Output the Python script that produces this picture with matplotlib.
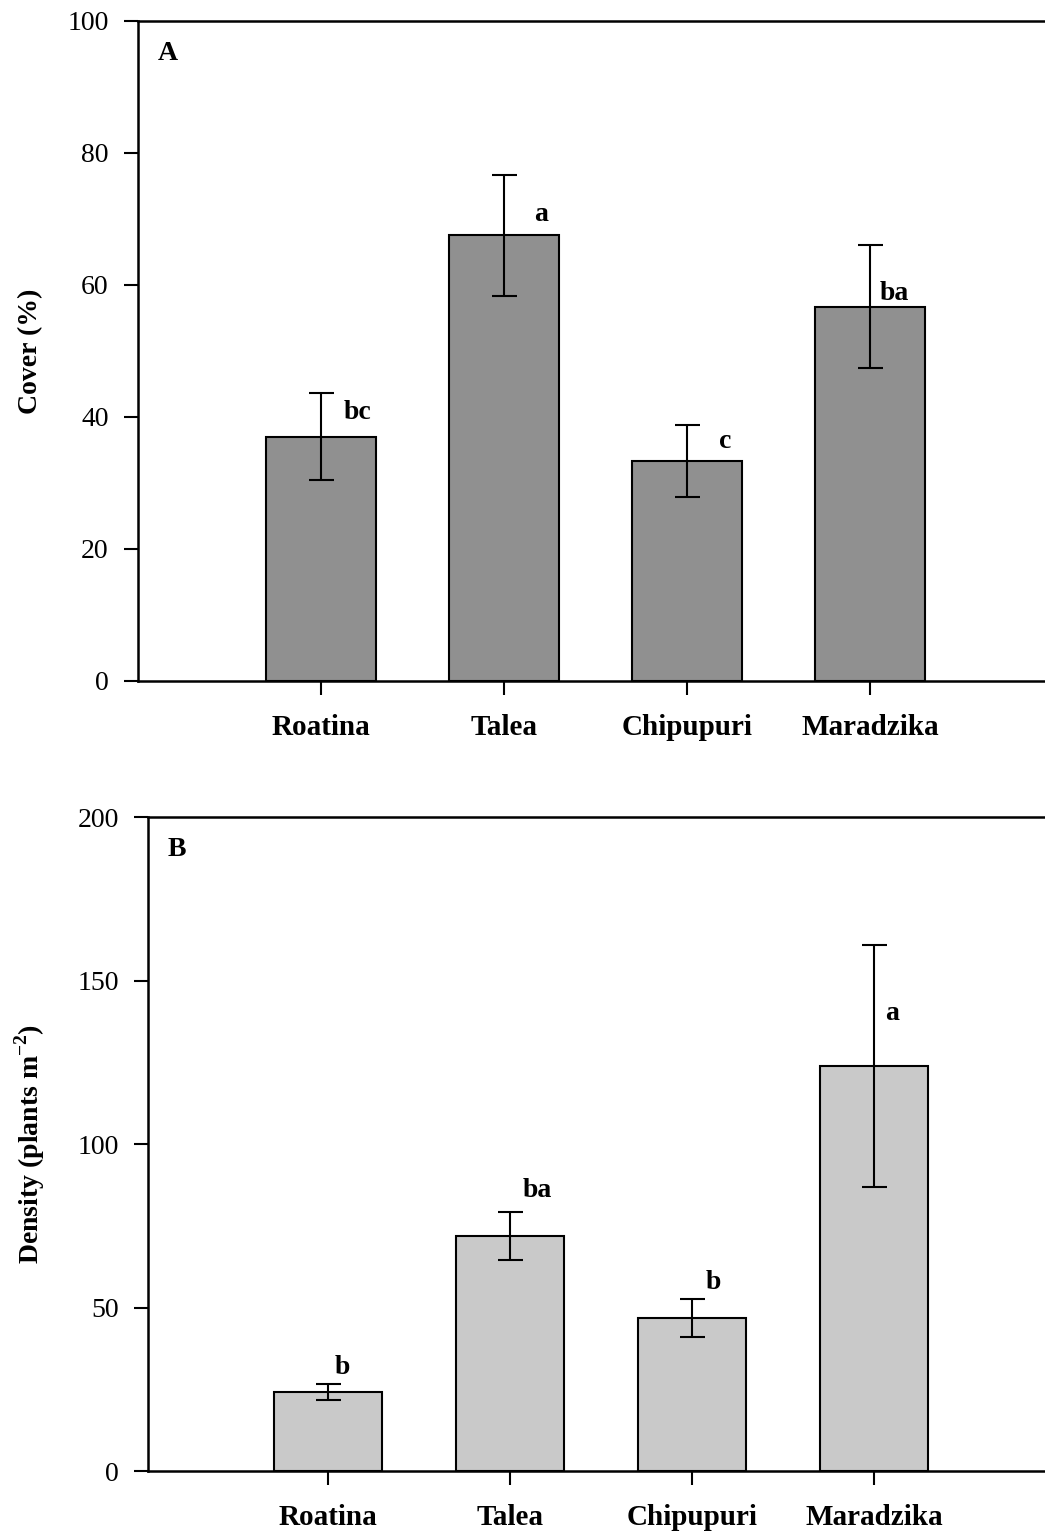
import matplotlib
matplotlib.use("Agg")
import numpy as np
from matplotlib import pyplot as plt

plt.rcParams['font.family'] = ['Liberation Serif', 'DejaVu Serif']
plt.rcParams['mathtext.fontset'] = 'custom'
plt.rcParams['mathtext.rm'] = 'Liberation Serif:bold'
plt.rcParams['mathtext.bf'] = 'Liberation Serif:bold'

# Dados
cultivares = ['Roatina', 'Talea', 'Chipupuri', 'Maradzika']

cobertura = [37.0, 67.5, 33.3, 56.7]
cobertura_se = [6.6, 9.1, 5.5, 9.3]
letras_a = ['bc', 'a', 'c', 'ba']

densidade = [24.2, 71.9, 46.8, 124.0]
densidade_se = [2.5, 7.3, 5.8, 37.0]
letras_b = ['b', 'ba', 'b', 'a']

# deslocamento das letras em relação ao topo da barra
dx_a = [0.20, 0.20, 0.21, 0.13]
dy_a = [3.7, 3.2, 3.0, 2.0]
dx_b = [0.08, 0.15, 0.12, 0.10]
dy_b = [7.6, 14.0, 10.7, 16.0]

pos = np.arange(1, len(cultivares) + 1)

fig = plt.figure(figsize=(10.45, 15.32), dpi=100)
ax1 = fig.add_axes([0.132, 0.5555, 0.868, 0.4308])
ax2 = fig.add_axes([0.1416, 0.0398, 0.8584, 0.4269])


def painel(ax, valores, erros, letras, dx, dy, cor, largura, ylim, yticks,
           ylabel, rotulo, label_x, xlim):
    ax.bar(pos, valores, width=largura, color=cor, edgecolor='black',
           linewidth=1.5, zorder=2)
    ax.errorbar(pos, valores, yerr=erros, fmt='none', ecolor='black',
                elinewidth=1.5, capsize=9, capthick=1.5, zorder=3)
    for i, letra in enumerate(letras):
        ax.text(pos[i] + dx[i], valores[i] + dy[i], letra, ha='center',
                va='center', fontsize=20, fontweight='bold')
    ax.set_xlim(*xlim)
    ax.set_ylim(*ylim)
    ax.set_yticks(yticks)
    ax.set_xticks(pos)
    ax.set_xticklabels(cultivares, fontsize=21, fontweight='bold')
    ax.tick_params(axis='y', labelsize=20, direction='out', length=10,
                   width=1.5, pad=11)
    ax.tick_params(axis='x', direction='out', length=10, width=1.5, pad=14)
    ax.spines['right'].set_visible(False)
    for s in ['left', 'top', 'bottom']:
        ax.spines[s].set_linewidth(1.8)
    ax.set_ylabel(ylabel, fontsize=20, fontweight='bold')
    ax.yaxis.set_label_coords(label_x, 0.5)
    ax.text(0.022, 0.95, rotulo, transform=ax.transAxes, ha='left',
            va='center', fontsize=20, fontweight='bold')


painel(ax1, cobertura, cobertura_se, letras_a, dx_a, dy_a, '#909090', 0.6,
       (0, 100), [0, 20, 40, 60, 80, 100], 'Cover (%)', 'A', -0.105,
       (0, 4.956))
painel(ax2, densidade, densidade_se, letras_b, dx_b, dy_b, '#c9c9c9', 0.59,
       (0, 200), [0, 50, 100, 150, 200], r'Density (plants m$^{-2}$)', 'B',
       -0.113, (0.01, 4.94))

plt.savefig('out.png', dpi=100)
